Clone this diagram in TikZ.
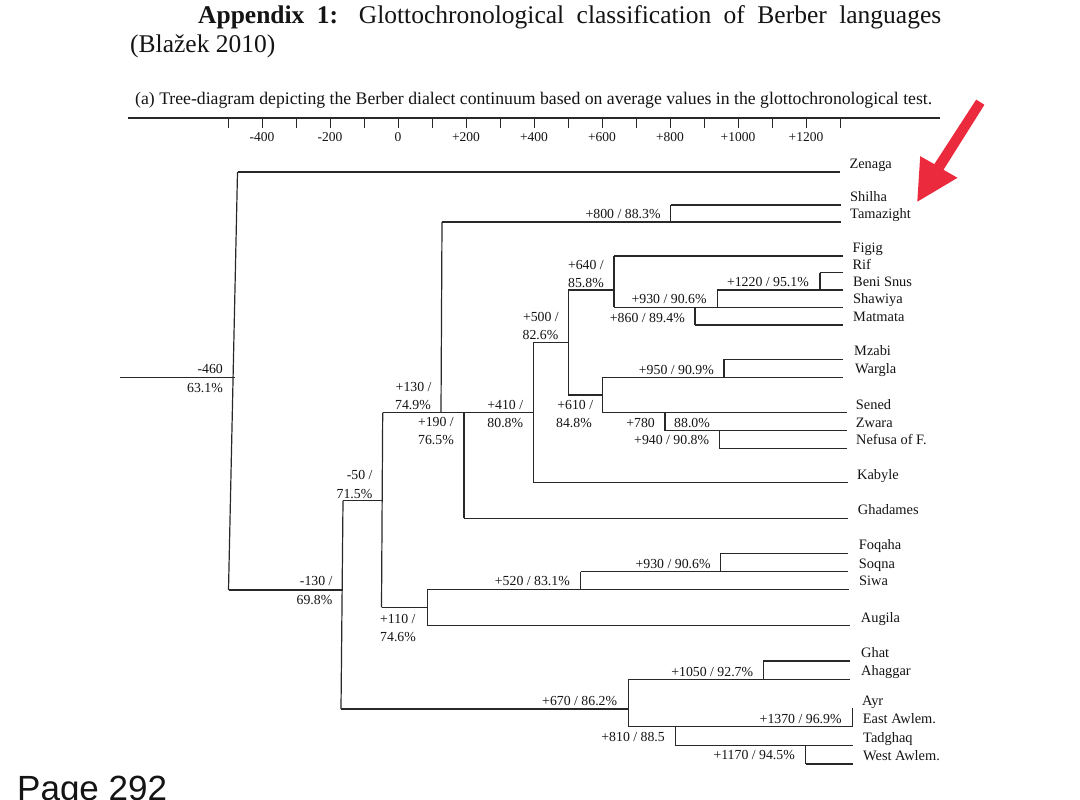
\documentclass[tikz,border=0pt]{standalone}
\usepackage{graphicx}
\usepackage{fontspec}
\setmainfont{Liberation Serif}
\newfontfamily\pagefont{Liberation Sans}
\definecolor{arrowred}{RGB}{236,42,62}
\definecolor{ink}{RGB}{40,40,40}
\definecolor{txt}{RGB}{20,20,20}
\begin{document}
\begin{tikzpicture}[x=1pt,y=-1pt,
  br/.style={line width=1.2pt, draw=ink},
  leaf/.style={anchor=base west, inner sep=0pt, text=txt, font=\fontsize{14.4}{15}\selectfont},
  lab/.style={anchor=base east, inner sep=0pt, text=txt, font=\fontsize{13.8}{15}\selectfont},
  labl/.style={anchor=base west, inner sep=0pt, text=txt, font=\fontsize{13.8}{15}\selectfont},
  ticklab/.style={anchor=base, inner sep=0pt, text=txt, font=\fontsize{13.5}{14}\selectfont}]
\useasboundingbox[fill=white] (0,0) rectangle (1080,800);

% title
\node[anchor=base west, inner sep=0pt, text=txt] (title1) at (198,24)
  {\fontsize{25.5}{28}\selectfont\makebox[743pt][s]{\textbf{Appendix 1:} Glottochronological classification of Berber languages}};
\node[anchor=base west, inner sep=0pt, text=txt] (title2) at (130,53)
  {\fontsize{25.5}{28}\selectfont (Blažek 2010)};
\node[anchor=base west, inner sep=0pt, text=txt] (caption) at (135,105)
  {\resizebox{797pt}{!}{\fontsize{16}{18}\selectfont (a) Tree-diagram depicting the Berber dialect continuum based on average values in the glottochronological test.}};

% axis
\draw[br] (128,118) -- (940,118);
\foreach \i in {0,...,18} \draw[br, line width=0.9pt] ({228+34*\i},118) -- ({228+34*\i},128);
\foreach \v/\t in {-400/-400,-200/-200,0/0,200/+200,400/+400,600/+600,800/+800,1000/+1000,1200/+1200}
  \node[ticklab] at ({398+0.34*\v},141.5) {\t};

% ---------- tree ----------
% root
\draw[br] (120,377.3) -- (235,377.3);
\draw[br] (237.5,172) -- (228.5,590);
\draw[br] (237.5,172) -- (840,172);
% -130
\draw[br] (228.5,590) -- (343,590);
\draw[br] (343,500.7) -- (341,709);
% -50
\draw[br] (343,500.7) -- (382.7,500.7);
\draw[br] (382.7,412.7) -- (381.5,607.3);
% +130 / +190 / +410 line
\draw[br] (382.7,412.7) -- (533.3,412.7);
\draw[br] (442,222) -- (441,412.7);
\draw[br] (442,222) -- (841,222);
\draw[br] (670.7,205) -- (670.7,222);
\draw[br] (670.7,205) -- (841,205);
\draw[br] (464,412.7) -- (464,518.3);
\draw[br] (464,518.3) -- (847.7,518.3);
\draw[br] (533.3,342.5) -- (533.3,482.7);
\draw[br] (533.3,482.7) -- (847.7,482.7);
% +500
\draw[br] (533.3,342.5) -- (568.3,342.5);
\draw[br] (568.3,290) -- (568.3,395);
% +640
\draw[br] (568.3,290) -- (614,290);
\draw[br] (614,256) -- (614,307.3);
\draw[br] (614,256) -- (842.7,256);
\draw[br] (614,307.3) -- (842.7,307.3);
\draw[br] (717.3,290) -- (717.3,307.3);
\draw[br] (717.3,290) -- (842.7,290);
\draw[br] (820,272.7) -- (820,290);
\draw[br] (820,272.7) -- (842.7,272.7);
\draw[br] (695,307.3) -- (695,325);
\draw[br] (695,325) -- (843,325);
% +610
\draw[br] (568.3,395) -- (602.7,395);
\draw[br] (602.7,377.3) -- (602.7,412.7);
\draw[br] (602.7,377.3) -- (843.3,377.3);
\draw[br] (724,359.3) -- (724,377.3);
\draw[br] (724,359.3) -- (843,359.3);
\draw[br] (602.7,412.7) -- (846.7,412.7);
\draw[br] (665,412.7) -- (665,430.7);
\draw[br] (665,430.7) -- (846.7,430.7);
\draw[br] (719.3,430.7) -- (719.3,448.3);
\draw[br] (719.3,448.3) -- (846.7,448.3);
% +110
\draw[br] (381.5,607.3) -- (427.7,607.3);
\draw[br] (427.7,589.3) -- (427.7,625.7);
\draw[br] (427.7,589.3) -- (849,589.3);
\draw[br] (580.7,571.7) -- (580.7,589.3);
\draw[br] (580.7,571.7) -- (848,571.7);
\draw[br] (720.7,553.3) -- (720.7,571.7);
\draw[br] (720.7,553.3) -- (848,553.3);
\draw[br] (427.7,625.7) -- (850,625.7);
% +670
\draw[br] (341,709) -- (628.3,709);
\draw[br] (628.3,679.3) -- (628.3,726.7);
\draw[br] (628.3,679.3) -- (850,679.3);
\draw[br] (763.3,661) -- (763.3,679.3);
\draw[br] (763.3,661) -- (850,661);
\draw[br] (628.3,726.7) -- (852.7,726.7);
\draw[br] (852.7,708.3) -- (852.7,726.7);
\draw[br] (675.7,726.7) -- (675.7,745.7);
\draw[br] (675.7,745.7) -- (852.7,745.7);
\draw[br] (805.7,745.7) -- (805.7,764);
\draw[br] (805.7,764) -- (852.7,764);

% ---------- leaf labels ----------
\node[leaf] (zenaga) at (849.3,168.5) {Zenaga};
\node[leaf] (shilha) at (850,201.5) {Shilha};
\node[leaf] (tamaz) at (850,218.5) {Tamazight};
\node[leaf] (figig) at (852.3,252.5) {Figig};
\node[leaf] (rif) at (852.3,269.5) {Rif};
\node[leaf] (beni) at (853,286.5) {Beni Snus};
\node[leaf] (shaw) at (853,303.8) {Shawiya};
\node[leaf] (matm) at (853,321.5) {Matmata};
\node[leaf] (mzabi) at (854,355.8) {Mzabi};
\node[leaf] (wargla) at (855,373.8) {Wargla};
\node[leaf] (sened) at (855.7,409.2) {Sened};
\node[leaf] (zwara) at (855.7,427.2) {Zwara};
\node[leaf] (nefusa) at (856,444.8) {Nefusa of F.};
\node[leaf] (kabyle) at (857,479.2) {Kabyle};
\node[leaf] (ghad) at (857.7,514.8) {Ghadames};
\node[leaf] (foqaha) at (858.7,549.8) {Foqaha};
\node[leaf] (soqna) at (858.7,568.2) {Soqna};
\node[leaf] (siwa) at (859,585.8) {Siwa};
\node[leaf] (augila) at (860.7,622.2) {Augila};
\node[leaf] (ghat) at (861,657.5) {Ghat};
\node[leaf] (ahag) at (861,675.8) {Ahaggar};
\node[leaf] (ayr) at (862,705.5) {Ayr};
\node[leaf] (eastaw) at (862.7,723.2) {East Awlem.};
\node[leaf] (tadg) at (863,742.2) {Tadghaq};
\node[leaf] (westaw) at (863,760.5) {West Awlem.};

% ---------- node labels ----------
\node[lab] (n460a) at (223,373.5) {-460};
\node[lab] (n460b) at (223,392.5) {63.1\%};
\node[lab] (n130a) at (332.7,585) {-130 /};
\node[lab] (n130b) at (332.5,604) {69.8\%};
\node[lab] (n50a) at (372.7,479.5) {-50 /};
\node[lab] (n50b) at (372.5,498) {71.5\%};
\node[lab] (p130a) at (431.7,391) {+130 /};
\node[lab] (p130b) at (431,409) {74.9\%};
\node[lab] (p190a) at (454,426) {+190 /};
\node[lab] (p190b) at (454,444.5) {76.5\%};
\node[lab] (p410a) at (523.3,409) {+410 /};
\node[lab] (p410b) at (523.3,427) {80.8\%};
\node[lab] (p500a) at (559,321.5) {+500 /};
\node[lab] (p500b) at (558.5,339.5) {82.6\%};
\node[lab] (p640a) at (604,269.5) {+640 /};
\node[lab] (p640b) at (604,287) {85.8\%};
\node[lab] (p610a) at (593.3,409) {+610 /};
\node[lab] (p610b) at (592,427) {84.8\%};
\node[lab] (p800) at (660.7,218.5) {+800 / 88.3\%};
\node[lab] (p1220) at (809,286) {+1220 / 95.1\%};
\node[lab] (p930a) at (706.7,303.5) {+930 / 90.6\%};
\node[lab] (p860) at (685,322.8) {+860 / 89.4\%};
\node[lab] (p950) at (714,374) {+950 / 90.9\%};
\node[lab] (p780a) at (655,427) {+780};
\node[labl] (p780b) at (674,427) {88.0\%};
\node[lab] (p940) at (709.3,444.5) {+940 / 90.8\%};
\node[lab] (p930b) at (710.7,568) {+930 / 90.6\%};
\node[lab] (p520) at (570,585) {+520 / 83.1\%};
\node[labl] (p110a) at (380,623) {+110 /};
\node[labl] (p110b) at (380,641) {74.6\%};
\node[lab] (p670) at (617.3,705.5) {+670 / 86.2\%};
\node[lab] (p1050) at (753.3,676) {+1050 / 92.7\%};
\node[lab] (p1370) at (841.7,723) {+1370 / 96.9\%};
\node[lab] (p810) at (665,741) {+810 / 88.5};
\node[lab] (p1170) at (795,759.5) {+1170 / 94.5\%};

% red arrow
\fill[arrowred] (976.2,99.6) -- (984.4,104.8) -- (943.5,169.8) -- (957.5,177.8)
  -- (917.3,201.7) -- (920.2,156.2) -- (934.3,164.2) -- cycle;

% page number
\node[anchor=base west, inner sep=0pt, text=txt, font=\pagefont\fontsize{35}{40}\selectfont] (page) at (17,800) {Page 292};
\end{tikzpicture}
\end{document}
